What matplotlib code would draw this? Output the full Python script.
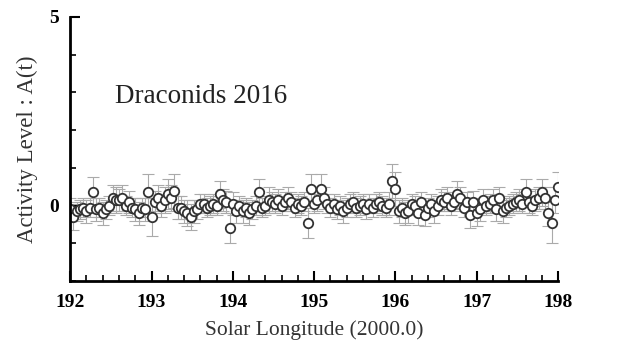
import numpy as np
import matplotlib
matplotlib.use("Agg")
import matplotlib.pyplot as plt
from matplotlib.ticker import MultipleLocator, FixedLocator

# Solar longitude samples (deg, step 0.04) and activity level A(t)
solar_long = np.round(np.linspace(192.0, 198.0, 151), 2)
activity = [
    # 192.00 - 192.96
    -0.10, -0.30, -0.15, -0.10, -0.05, -0.15, -0.05, 0.35, -0.10, -0.05,
    -0.20, -0.10, 0.00, 0.20, 0.15, 0.15, 0.20, 0.00, 0.10, -0.05,
    -0.10, -0.20, -0.05, -0.10, 0.35,
    # 193.00 - 193.96
    -0.30, 0.10, 0.20, 0.00, 0.15, 0.30, 0.20, 0.40, -0.05, -0.05,
    -0.15, -0.20, -0.30, -0.15, -0.10, 0.05, 0.05, -0.05, 0.00, 0.05,
    0.00, 0.30, 0.15, 0.10, -0.60,
    # 194.00 - 194.96
    0.05, -0.15, 0.00, -0.15, -0.05, -0.20, -0.10, 0.00, 0.35, -0.05,
    0.00, 0.15, 0.10, 0.05, 0.15, 0.00, 0.10, 0.20, 0.10, -0.05,
    0.05, 0.00, 0.10, -0.45, 0.45,
    # 195.00 - 195.96
    0.05, 0.15, 0.45, 0.20, 0.05, -0.05, 0.05, -0.10, 0.00, -0.15,
    -0.05, 0.05, 0.10, -0.05, 0.00, 0.05, -0.10, 0.05, -0.05, 0.05,
    0.10, 0.00, -0.05, 0.05, 0.65,
    # 196.00 - 196.96
    0.45, -0.15, -0.05, -0.20, -0.15, 0.05, 0.00, -0.20, 0.10, -0.25,
    -0.05, 0.05, -0.15, 0.00, 0.15, 0.10, 0.20, 0.00, 0.10, 0.30,
    0.20, -0.05, 0.10, -0.25, 0.10,
    # 197.00 - 198.00
    -0.20, -0.10, 0.15, 0.00, 0.05, 0.15, -0.10, 0.20, -0.15, -0.05,
    0.00, 0.05, 0.10, 0.15, 0.05, 0.35, 0.10, 0.00, 0.15, 0.20,
    0.35, 0.20, -0.20, -0.45, 0.15, 0.50,
]
errors = [
    0.30, 0.35, 0.25, 0.25, 0.25, 0.30, 0.25, 0.40, 0.30, 0.25,
    0.30, 0.25, 0.25, 0.35, 0.35, 0.30, 0.35, 0.25, 0.30, 0.25,
    0.30, 0.30, 0.25, 0.30, 0.50,
    0.50, 0.30, 0.35, 0.30, 0.35, 0.40, 0.35, 0.45, 0.30, 0.30,
    0.30, 0.35, 0.35, 0.30, 0.25, 0.25, 0.25, 0.25, 0.25, 0.25,
    0.25, 0.35, 0.30, 0.30, 0.40,
    0.30, 0.30, 0.25, 0.30, 0.25, 0.30, 0.25, 0.25, 0.35, 0.25,
    0.25, 0.35, 0.25, 0.25, 0.30, 0.25, 0.25, 0.30, 0.25, 0.25,
    0.25, 0.25, 0.25, 0.40, 0.40,
    0.25, 0.30, 0.40, 0.30, 0.25, 0.25, 0.25, 0.25, 0.25, 0.30,
    0.25, 0.25, 0.25, 0.25, 0.25, 0.25, 0.25, 0.25, 0.25, 0.25,
    0.25, 0.25, 0.25, 0.30, 0.45,
    0.45, 0.30, 0.25, 0.30, 0.30, 0.25, 0.25, 0.30, 0.25, 0.30,
    0.25, 0.25, 0.30, 0.25, 0.30, 0.25, 0.30, 0.25, 0.25, 0.35,
    0.30, 0.25, 0.25, 0.35, 0.30,
    0.35, 0.30, 0.30, 0.25, 0.25, 0.30, 0.30, 0.30, 0.30, 0.25,
    0.25, 0.25, 0.25, 0.30, 0.25, 0.35, 0.30, 0.25, 0.30, 0.30,
    0.35, 0.30, 0.35, 0.55, 0.35, 0.40,
]
x_major = [192, 193, 194, 195, 196, 197, 198]
y_major = [0, 5]

fig = plt.figure(figsize=(6.27, 3.51), dpi=100)
ax = fig.add_axes([0.112, 0.199, 0.778, 0.753])

ax.errorbar(solar_long, activity, yerr=errors, fmt='none', ecolor='#aaaaaa',
            elinewidth=0.8, capsize=4, capthick=0.8, zorder=1)
ax.plot(solar_long, activity, 'o', markersize=6.8, markerfacecolor='white',
        markeredgecolor='#333333', markeredgewidth=1.3, zorder=2)

ax.set_xlim(192, 198)
ax.set_ylim(-2, 5)

for s in ['top', 'right']:
    ax.spines[s].set_visible(False)
for s in ['left', 'bottom']:
    ax.spines[s].set_linewidth(2)
    ax.spines[s].set_color('black')

ax.xaxis.set_major_locator(FixedLocator(x_major))
ax.xaxis.set_minor_locator(MultipleLocator(0.2))
ax.yaxis.set_major_locator(FixedLocator(y_major))
ax.yaxis.set_minor_locator(MultipleLocator(1))
ax.tick_params(which='major', direction='in', length=7, width=1.5, color='black')
ax.tick_params(which='minor', direction='in', length=4, width=1.2, color='black')
ax.tick_params(axis='x', which='major', pad=9)
ax.tick_params(axis='y', which='major', pad=8)

for lab in ax.get_xticklabels() + ax.get_yticklabels():
    lab.set_fontfamily('Liberation Serif')
    lab.set_fontweight('bold')
    lab.set_fontsize(14)

ax.set_xlabel('Solar Longitude (2000.0)', fontfamily='Liberation Serif',
              fontsize=15.5, color='#333333', labelpad=7)
ax.set_ylabel('Activity Level : A(t)', fontfamily='Liberation Serif',
              fontsize=16.5, color='#333333', labelpad=8)

ax.text(192.55, 2.9, 'Draconids 2016', fontfamily='Liberation Serif',
        fontsize=19.5, color='#222222', ha='left', va='center')

fig.savefig('out.png', dpi=100)
